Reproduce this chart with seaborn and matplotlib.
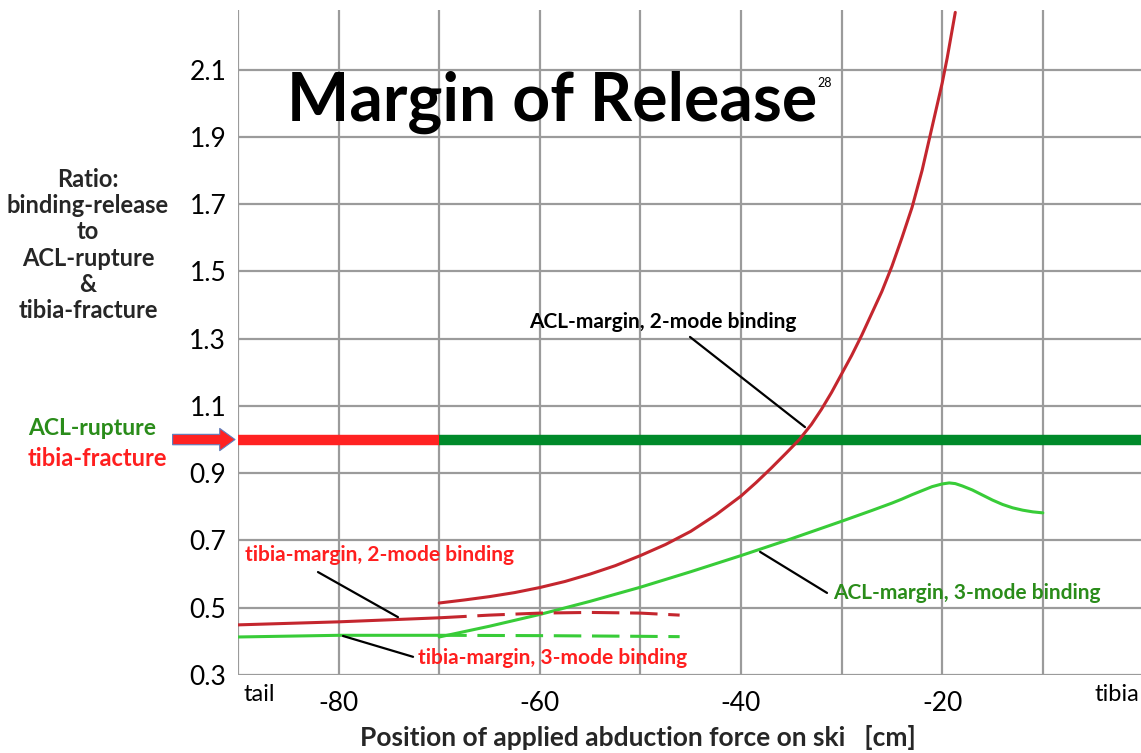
import numpy as np
import pandas as pd
import matplotlib
matplotlib.use("Agg")
import matplotlib.pyplot as plt
import seaborn as sns

# Values
acl2_x = [-70, -67.5, -65, -62.5, -60, -57.5, -55, -52.5, -50, -47.5, -45, -42.5, -40,
          -38.5, -37, -35.5, -34.2, -33, -32, -31, -30, -29, -28, -27, -26, -25,
          -24, -23, -22, -21, -20, -19.5, -18.7]
acl2_y = [0.514, 0.523, 0.533, 0.545, 0.560, 0.578, 0.600, 0.625, 0.655, 0.688, 0.727, 0.776, 0.832,
          0.872, 0.915, 0.96, 1.0, 1.045, 1.09, 1.14, 1.195, 1.25, 1.31, 1.375, 1.44, 1.515,
          1.6, 1.69, 1.8, 1.93, 2.06, 2.135, 2.27]

acl3_x = [-70, -65, -60, -55, -50, -45, -40, -35, -30, -27, -25, -24, -23, -22, -21, -20,
          -19.3, -18.7, -18, -17, -16, -15, -14, -13, -12, -11, -10]
acl3_y = [0.413, 0.445, 0.48, 0.519, 0.561, 0.607, 0.655, 0.705, 0.757, 0.789, 0.811, 0.823, 0.836, 0.848, 0.86, 0.868,
          0.871, 0.869, 0.862, 0.85, 0.835, 0.82, 0.807, 0.797, 0.79, 0.785, 0.782]

tib2_solid_x = [-90, -80, -70]
tib2_solid_y = [0.449, 0.458, 0.47]
tib2_dash_x = [-70, -65, -60, -55, -50, -46.1]
tib2_dash_y = [0.470, 0.478, 0.484, 0.486, 0.484, 0.478]

tib3_solid_x = [-90, -80, -70]
tib3_solid_y = [0.413, 0.418, 0.418]
tib3_dash_x = [-70, -60, -50, -46.1]
tib3_dash_y = [0.418, 0.417, 0.415, 0.414]

yticks = [0.3, 0.5, 0.7, 0.9, 1.1, 1.3, 1.5, 1.7, 1.9, 2.1]
xticks = [-90, -80, -70, -60, -50, -40, -30, -20, -10]
xticklabels = ["", "-80", "", "-60", "", "-40", "", "-20", ""]

dark_red = "#c4262e"
light_green = "#38cc38"
thick_red = "#ff2222"
thick_green = "#008a2a"
text_red = "#ff1f1f"
text_green = "#2a8c1a"
grid_gray = "#9b9b9b"

sns.set_theme(style="white")
plt.rcParams["font.family"] = ["Lato", "DejaVu Sans"]

fig = plt.figure(figsize=(11.41, 7.53), dpi=100)
ax = fig.add_axes([0.2086, 0.1036, 0.7935, 0.8831])
ax.set_xlim(-90, 0)
ax.set_ylim(0.3, 2.277)

# grid + ticks
ax.set_xticks(xticks)
ax.set_xticklabels(xticklabels)
ax.set_yticks(yticks)
ax.set_yticklabels([f"{v:.1f}" for v in yticks])
ax.grid(True, color=grid_gray, linewidth=1.6)
ax.set_axisbelow(True)
for s in ax.spines.values():
    s.set_visible(False)
ax.tick_params(axis="both", which="both", direction="out", length=7.5, width=1.6,
               color=grid_gray, labelsize=19, labelcolor="black")
ax.tick_params(axis="y", pad=1)
ax.tick_params(axis="x", pad=4)

# reference lines at ratio 1.0
ax.hlines(1.0, -90, -70, color=thick_red, linewidth=7.5, zorder=3)
ax.hlines(1.0, -70, 0, color=thick_green, linewidth=7.5, zorder=3)

# curves
dash = (0, (9, 3.5))
sns.lineplot(x=acl2_x, y=acl2_y, ax=ax, color=dark_red, linewidth=2.2, sort=False, estimator=None, zorder=4)
sns.lineplot(x=acl3_x, y=acl3_y, ax=ax, color=light_green, linewidth=2.2, sort=False, estimator=None, zorder=4)
sns.lineplot(x=tib2_solid_x, y=tib2_solid_y, ax=ax, color=dark_red, linewidth=2.2, sort=False, estimator=None, zorder=4)
sns.lineplot(x=tib2_dash_x, y=tib2_dash_y, ax=ax, color=dark_red, linewidth=2.2, sort=False, estimator=None,
             linestyle=dash, zorder=4)
sns.lineplot(x=tib3_solid_x, y=tib3_solid_y, ax=ax, color=light_green, linewidth=2.2, sort=False, estimator=None, zorder=4)
sns.lineplot(x=tib3_dash_x, y=tib3_dash_y, ax=ax, color=light_green, linewidth=2.2, sort=False, estimator=None,
             linestyle=dash, zorder=4)

# labels with leader lines
def leader(x0, y0, x1, y1):
    ax.plot([x0, x1], [y0, y1], color="black", linewidth=1.6, zorder=5)

ax.text(-47.75, 1.349, "ACL-margin, 2-mode binding", color="black", fontsize=15,
        fontweight="bold", ha="center", va="center", zorder=6)
leader(-45.07, 1.305, -33.64, 1.037)

ax.text(-89.3, 0.657, "tibia-margin, 2-mode binding", color=text_red, fontsize=15,
        fontweight="bold", ha="left", va="center", zorder=6)
leader(-82.05, 0.606, -74.1, 0.472)

ax.text(-72.1, 0.351, "tibia-margin, 3-mode binding", color=text_red, fontsize=15,
        fontweight="bold", ha="left", va="center", zorder=6)
leader(-79.56, 0.416, -72.6, 0.354)

ax.text(-30.85, 0.544, "ACL-margin, 3-mode binding", color=text_green, fontsize=15,
        fontweight="bold", ha="left", va="center", zorder=6)
leader(-38.1, 0.666, -31.45, 0.544)

# title
ax.text(-85.1, 1.947, "Margin of Release", fontsize=47.5, fontweight="bold", color="black",
        ha="left", va="baseline", zorder=6)
ax.text(-32.4, 2.06, "28", fontsize=9, color="black", ha="left", va="center", zorder=6)

# x-axis end labels and title
ax.text(-89.5, 0.241, "tail", fontsize=17, color="black", ha="left", va="center", clip_on=False)
ax.text(-0.4, 0.241, "tibia", fontsize=17, color="black", ha="right", va="center", clip_on=False)
fig.text(638 / 1141, 1 - 737 / 753, "Position of applied abduction force on ski   [cm]",
         fontsize=19, fontweight="bold", ha="center", va="center")

# y-axis description
fig.text(88 / 1141, 1 - 245 / 753,
         "Ratio:\nbinding-release\nto\nACL-rupture\n&\ntibia-fracture",
         fontsize=17, fontweight="bold", ha="center", va="center", linespacing=1.16)

# threshold labels and arrow
fig.text(28 / 1141, 1 - 428 / 753, "ACL-rupture", fontsize=16.5, fontweight="bold",
         color=text_green, ha="left", va="center")
fig.text(28 / 1141, 1 - 458 / 753, "tibia-fracture", fontsize=17, fontweight="bold",
         color=text_red, ha="left", va="center")
ax.annotate("", xy=(-90.3, 1.0), xytext=(-96.5, 1.0), annotation_clip=False,
            arrowprops=dict(arrowstyle="simple,head_length=1.1,head_width=1.6,tail_width=0.75",
                            mutation_scale=10, fc=thick_red, ec="#5b7fbf", lw=0.8,
                            shrinkA=0, shrinkB=0))

fig.savefig("out.png", dpi=100)
